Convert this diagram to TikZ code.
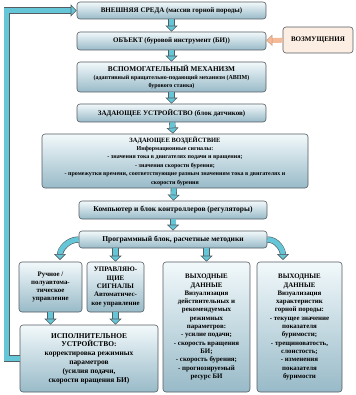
\documentclass[tikz,border=0pt]{standalone}
\usepackage{fontspec}
\setmainfont{Liberation Serif}
\usetikzlibrary{arrows.meta}

\definecolor{boxtop}{RGB}{242,249,251}
\definecolor{boxbot}{RGB}{152,186,200}
\definecolor{arrteal}{RGB}{100,198,214}
\definecolor{edgegray}{RGB}{85,92,98}
\definecolor{vozfill}{RGB}{252,238,226}
\definecolor{vozarr}{RGB}{245,186,152}

\newcommand{\smfont}{\fontsize{6}{7.4}\selectfont}

\begin{document}
\begin{tikzpicture}[x=1pt, y=-1pt,
  box/.style={draw=edgegray, line width=0.6pt, rounded corners=3pt,
    top color=boxtop, bottom color=boxbot, align=center, inner sep=1pt,
    font=\bfseries\fontsize{7}{8.4}\selectfont},
  lowbox/.style={box, font=\bfseries\fontsize{6.9}{8.3}\selectfont},
  barrow/.style={line width=5pt, arrteal,
    -{Triangle[width=12pt,length=6pt,line width=0.6pt,color=edgegray,fill=arrteal]},
    preaction={draw=edgegray, line width=6.2pt, shorten >=5pt, -}},
  varrow/.style={line width=5pt, vozarr,
    -{Triangle[width=11pt,length=6pt,line width=0.4pt,color=vozarr!80!black,fill=vozarr]}}]

  \useasboundingbox (0,0) rectangle (355,395);

  % основная цепочка
  \node[box, minimum width=189pt, minimum height=17pt] (sreda) at (171.5,10.5)
    {ВНЕШНЯЯ СРЕДА (массив горной породы)};
  \node[box, minimum width=189pt, minimum height=18pt] (obj) at (171.5,41)
    {ОБЪЕКТ (буровой инструмент (БИ))};
  \node[box, top color=vozfill, bottom color=vozfill, minimum width=70pt, minimum height=26pt] (vozm) at (318,40)
    {ВОЗМУЩЕНИЯ};
  \node[box, minimum width=189pt, minimum height=30pt] (vspom) at (171.5,77)
    {\fontsize{7.3}{8.4}\selectfont ВСПОМОГАТЕЛЬНЫЙ МЕХАНИЗМ\\
     \smfont(адаптивный вращательно-подающий механизм (АВПМ)\\
     \smfont бурового станка)};
  \node[box, minimum width=189pt, minimum height=18pt] (zadustr) at (171.5,113)
    {ЗАДАЮЩЕЕ УСТРОЙСТВО (блок датчиков)};
  \node[box, minimum width=266pt, minimum height=54pt] (zadvozd) at (175,161)
    {\fontsize{6.5}{7.4}\selectfont ЗАДАЮЩЕЕ ВОЗДЕЙСТВИЕ\\
     \smfont Информационные сигналы:\\
     \smfont - значения тока в двигателях подачи и вращения;\\
     \smfont - значения скорости бурения;\\
     \smfont - промежутки времени, соответствующие разным значениям тока в двигателях и\\
     \smfont скорости бурения};
  \node[box, minimum width=188pt, minimum height=18pt, font=\bfseries\fontsize{7.5}{9}\selectfont] (komp) at (173,210)
    {Компьютер и блок контроллеров (регуляторы)};
  \node[box, minimum width=188pt, minimum height=17pt, font=\bfseries\fontsize{7.5}{9}\selectfont] (prog) at (173,239.5)
    {Программный блок, расчетные методики};

  % нижний ряд
  \node[lowbox, minimum width=63pt, minimum height=50pt] (ruch) at (50.5,287)
    {Ручное /\\полуавтома-\\тическое\\управление};
  \node[lowbox, minimum width=57pt, minimum height=50pt] (uprsig) at (115.5,287)
    {УПРАВЛЯЮ-\\ЩИЕ\\СИГНАЛЫ\\Автоматичес-\\кое управление};
  \node[lowbox, minimum width=87pt, minimum height=130pt] (vyh1) at (206.5,327)
    {ВЫХОДНЫЕ\\ДАННЫЕ\\Визуализация\\действительных и\\рекомендуемых\\режимных\\параметров:\\
     - усилие подачи;\\- скорость вращения\\БИ;\\- скорость бурения;\\- прогнозируемый\\ресурс БИ};
  \node[lowbox, minimum width=85pt, minimum height=130pt] (vyh2) at (299.5,327)
    {ВЫХОДНЫЕ\\ДАННЫЕ\\Визуализация\\характеристик\\горной породы:\\- текущее значение\\показателя\\
     буримости;\\- трещиноватость,\\слоистость;\\- изменения\\показателя\\буримости};
  \node[box, minimum width=138pt, minimum height=67pt, font=\bfseries\fontsize{7.4}{8.8}\selectfont] (ispoln) at (89,358.5)
    {ИСПОЛНИТЕЛЬНОЕ\\УСТРОЙСТВО:\\корректировка режимных\\параметров\\(усилия подачи,\\скорости вращения БИ)};

  \coordinate (ltip) at (60,260);
  \coordinate (rtip) at (283,260);

  % стрелки
  \draw[barrow] (sreda) -- (obj);
  \draw[barrow] (obj) -- (vspom);
  \draw[barrow] (vspom) -- (zadustr);
  \draw[barrow] (zadustr) -- (zadvozd);
  \draw[barrow] (zadvozd) -- (komp);
  \draw[barrow] (komp) -- (prog);
  \draw[varrow] (vozm) -- (obj);
  \draw[barrow] (prog.south -| uprsig.north) -- (uprsig.north);
  \draw[barrow] (prog.south -| vyh1.north) -- (vyh1.north);
  \draw[barrow] (prog.west) to[out=180, in=90] (ltip);
  \draw[barrow] (prog.east) to[out=0, in=90] (rtip);
  \draw[barrow] (ruch) -- (ruch.south |- ispoln.north);
  \draw[barrow] (uprsig) -- (uprsig.south |- ispoln.north);
  % обратная связь
  \draw[barrow] (ispoln.west) -- ++(-13,0) |- (sreda.west);
\end{tikzpicture}
\end{document}
